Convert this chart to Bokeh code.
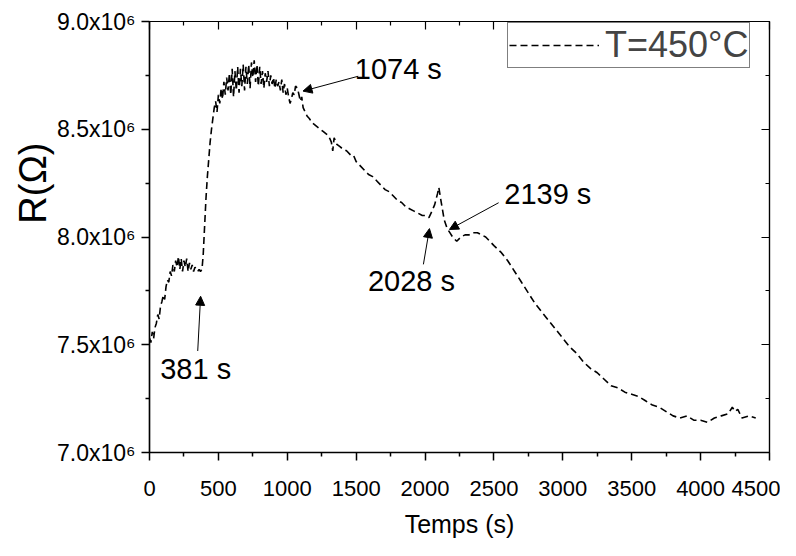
from bokeh.plotting import figure
from bokeh.models import (Range1d, LinearAxis, FixedTicker, Arrow, NormalHead, Label, Title,
                          CustomJSTickFormatter)
from bokeh.embed import file_html
from bokeh.resources import INLINE

# ---- data (time in s, resistance in 10^6 ohm) ----
time_s = [0, 10, 20, 30, 40, 50, 60, 70, 80, 90, 100, 110, 120, 130, 140, 150, 160, 170, 180, 190,
          200, 210, 220, 230, 240, 250, 260, 270, 280, 290, 300, 310, 320, 330, 340, 350, 360, 370, 381,
          390, 400, 410, 420, 430, 440, 450, 460, 470, 480, 490, 500, 510, 520, 530, 540, 550, 560, 570,
          580, 590, 600, 610, 620, 630, 640, 650, 660, 670, 680, 690, 700, 710, 720, 730, 740, 750, 760,
          770, 780, 790, 800, 810, 820, 830, 840, 850, 860, 870, 880, 890, 900, 910, 920, 930, 940, 950,
          960, 970, 980, 990, 1000, 1010, 1020, 1030, 1040, 1050, 1060, 1074, 1085, 1095, 1105, 1115,
          1130, 1145, 1160, 1180, 1200, 1220, 1240, 1260, 1280, 1300, 1320, 1330, 1340, 1360, 1380, 1400,
          1430, 1460, 1480, 1500, 1530, 1560, 1590, 1620, 1650, 1680, 1710, 1740, 1770, 1800, 1830, 1860,
          1890, 1920, 1950, 1980, 2000, 2028, 2050, 2070, 2090, 2100, 2115, 2139, 2160, 2180, 2200, 2230,
          2260, 2290, 2320, 2350, 2380, 2410, 2440, 2470, 2500, 2550, 2600, 2650, 2700, 2750, 2800, 2850,
          2900, 2950, 3000, 3050, 3100, 3150, 3200, 3250, 3300, 3350, 3400, 3450, 3500, 3550, 3600, 3650,
          3700, 3750, 3800, 3850, 3900, 3950, 4000, 4050, 4100, 4150, 4200, 4230, 4250, 4270, 4300, 4350,
          4400]
resistance_M = [7.53, 7.51, 7.56, 7.53, 7.58, 7.60, 7.64, 7.62, 7.68, 7.70, 7.73, 7.71, 7.77, 7.80, 7.79,
                7.84, 7.82, 7.87, 7.84, 7.89, 7.86, 7.91, 7.85, 7.90, 7.84, 7.89, 7.86, 7.90, 7.84, 7.88,
                7.85, 7.87, 7.84, 7.86, 7.85, 7.84, 7.85, 7.84, 7.85,
                7.92, 8.05, 8.18, 8.28, 8.36, 8.44, 8.50, 8.55, 8.60, 8.63, 8.58, 8.66, 8.62, 8.69, 8.64,
                8.72, 8.66, 8.74, 8.68, 8.76, 8.66, 8.78, 8.65, 8.77, 8.68, 8.79, 8.67, 8.78, 8.70, 8.80,
                8.68, 8.79, 8.71, 8.80, 8.69, 8.81, 8.74, 8.82, 8.72, 8.80, 8.70, 8.79, 8.71, 8.77, 8.69,
                8.76, 8.72, 8.77, 8.70, 8.75, 8.71, 8.74, 8.69, 8.73, 8.70, 8.72, 8.68, 8.73, 8.67, 8.71,
                8.66, 8.69, 8.65, 8.62, 8.64, 8.67, 8.66, 8.70, 8.69, 8.66, 8.63, 8.65, 8.60,
                8.58, 8.56, 8.55, 8.53, 8.52, 8.51, 8.50, 8.49, 8.48, 8.47, 8.44, 8.40, 8.46, 8.43, 8.42,
                8.41, 8.40, 8.38, 8.38, 8.35, 8.33, 8.31, 8.29, 8.28, 8.26, 8.24, 8.22, 8.21, 8.19, 8.17,
                8.16, 8.14, 8.13, 8.12, 8.11, 8.10, 8.10, 8.09, 8.12, 8.15, 8.20, 8.23, 8.17, 8.08, 8.04,
                8.02, 8.00, 7.98, 8.00, 8.01, 8.01, 8.02, 8.02, 8.01, 8.00, 7.98, 7.96, 7.93, 7.89, 7.84,
                7.79, 7.74, 7.69, 7.65, 7.61, 7.57, 7.53, 7.49, 7.46, 7.42, 7.39, 7.37, 7.34, 7.31, 7.30,
                7.28, 7.27, 7.26, 7.24, 7.22, 7.21, 7.19, 7.17, 7.16, 7.17, 7.15, 7.15, 7.14, 7.16, 7.17,
                7.18, 7.21, 7.19, 7.20, 7.16, 7.17, 7.16]
resistance = [v * 1e6 for v in resistance_M]

x_ticks = [0, 500, 1000, 1500, 2000, 2500, 3000, 3500, 4000, 4500]
x_minor = [250, 750, 1250, 1750, 2250, 2750, 3250, 3750, 4250]
y_ticks = [7000000, 7500000, 8000000, 8500000, 9000000]
y_minor = [7250000, 7750000, 8250000, 8750000]
y_tick_labels = ["7.0x10\u2076", "7.5x10\u2076", "8.0x10\u2076", "8.5x10\u2076", "9.0x10\u2076"]

series_label = "T=450°C"
x_title = "Temps (s)"
y_title = "R(Ω)"

# annotations: label, arrow tip (t, R), arrow tail (t, R), text centre (t, R)
ann_text = ["381 s", "1074 s", "2028 s", "2139 s"]
ann_tip_t = [371, 1114, 2032, 2177]
ann_tip_r = [7.725e6, 8.677e6, 8.039e6, 8.035e6]
ann_tail_t = [350, 1515, 1988, 2534]
ann_tail_r = [7.471e6, 8.746e6, 7.873e6, 8.159e6]
ann_pos_t = [335, 1806, 1901, 2891]
ann_pos_r = [7.388e6, 8.778e6, 7.794e6, 8.201e6]

FONT = "Liberation Sans"

p = figure(width=780, height=548, output_backend="svg", toolbar_location=None,
           x_range=Range1d(0, 4500), y_range=Range1d(7e6, 9e6),
           x_axis_label=x_title)
p.min_border_left = 149
p.min_border_right = 11
p.min_border_top = 21
p.min_border_bottom = 96
p.xgrid.visible = False
p.ygrid.visible = False
p.outline_line_color = "black"
p.outline_line_width = 1.2

p.line(time_s, resistance, line_color="black", line_width=1.6, line_dash="7 4",
       legend_label=series_label)

for ax in (p.xaxis[0], p.yaxis[0]):
    ax.axis_line_width = 1.5
    ax.major_tick_line_width = 1.5
    ax.minor_tick_line_width = 1.5
    ax.major_tick_out = 8
    ax.major_tick_in = 0
    ax.minor_tick_out = 4
    ax.minor_tick_in = 0
    ax.major_label_text_font = FONT
    ax.major_label_text_color = "black"
    ax.axis_label_text_font = FONT
    ax.axis_label_text_font_style = "normal"
    ax.axis_label_text_color = "black"

p.xaxis[0].major_label_text_font_size = "22px"
p.yaxis[0].major_label_text_font_size = "23px"
p.xaxis[0].ticker = FixedTicker(ticks=x_ticks, minor_ticks=x_minor)
p.yaxis[0].ticker = FixedTicker(ticks=y_ticks, minor_ticks=y_minor)
p.yaxis[0].major_label_overrides = {t: l for t, l in zip(y_ticks, y_tick_labels)}
p.xaxis[0].axis_label_text_font_size = "25px"
p.xaxis[0].major_label_standoff = 20
p.xaxis[0].axis_label_standoff = 11
p.yaxis[0].major_label_standoff = 6

top_ax = LinearAxis(ticker=FixedTicker(ticks=x_ticks, minor_ticks=x_minor),
                    formatter=CustomJSTickFormatter(code="return ''"))
right_ax = LinearAxis(ticker=FixedTicker(ticks=y_ticks, minor_ticks=y_minor),
                      formatter=CustomJSTickFormatter(code="return ''"))
for ax in (top_ax, right_ax):
    ax.major_tick_in = 8
    ax.major_tick_out = 0
    ax.minor_tick_in = 4
    ax.minor_tick_out = 0
    ax.axis_line_width = 1.2
    ax.major_tick_line_width = 1.2
    ax.minor_tick_line_width = 1.2
    ax.major_label_standoff = 0
p.add_layout(top_ax, "above")
p.add_layout(right_ax, "right")

p.add_layout(Title(text=y_title, align="right", offset=121, text_font=FONT,
                   text_font_size="38px", text_font_style="normal", text_color="black",
                   standoff=0), "left")

for txt, tt, tr, st, sr, lt, lr in zip(ann_text, ann_tip_t, ann_tip_r, ann_tail_t, ann_tail_r,
                                       ann_pos_t, ann_pos_r):
    p.add_layout(Arrow(end=NormalHead(size=9, fill_color="black", line_color="black"),
                       x_start=st, y_start=sr, x_end=tt, y_end=tr,
                       line_color="black", line_width=1))
    p.add_layout(Label(x=lt, y=lr, text=txt, text_font=FONT, text_font_size="29px",
                       text_align="center", text_baseline="middle", text_color="black"))

lg = p.legend[0]
lg.location = (358, 384)
lg.margin = 0
lg.border_line_color = "black"
lg.border_line_width = 1
lg.label_text_font = FONT
lg.label_text_font_size = "36px"
lg.glyph_width = 90
lg.glyph_height = 20
lg.label_standoff = 6
lg.padding = 1
lg.background_fill_alpha = 1

open("out.html", "w").write(file_html(p, INLINE))
